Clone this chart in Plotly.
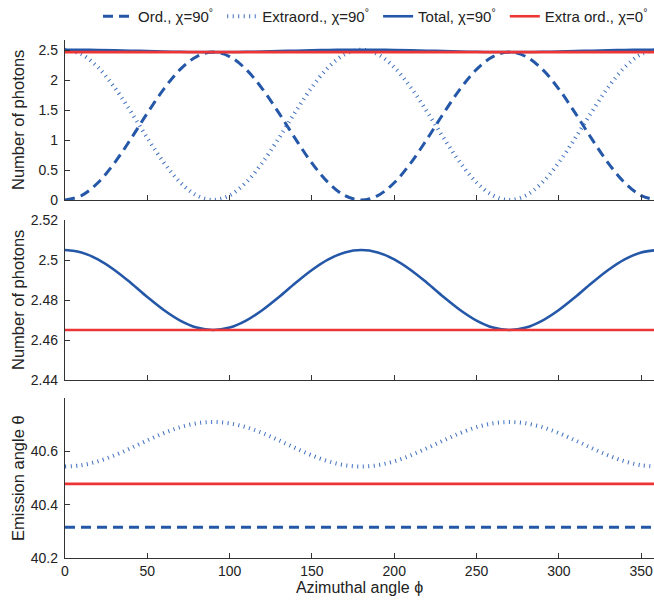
import plotly.graph_objects as go

# Azimuthal angle samples (degrees)
phi = [0, 10, 20, 30, 40, 50, 60, 70, 80, 90, 100, 110, 120, 130, 140, 150, 160, 170, 180,
       190, 200, 210, 220, 230, 240, 250, 260, 270, 280, 290, 300, 310, 320, 330, 340, 350, 360]

# Panel 1: number of photons
ord_q = [0.000, 0.074, 0.288, 0.616, 1.018, 1.447, 1.849, 2.177, 2.391, 2.465, 2.391, 2.177, 1.849, 1.447, 1.018, 0.616, 0.288, 0.074, 0.000,
         0.074, 0.288, 0.616, 1.018, 1.447, 1.849, 2.177, 2.391, 2.465, 2.391, 2.177, 1.849, 1.447, 1.018, 0.616, 0.288, 0.074, 0.000]
extra_q = [2.505, 2.429, 2.212, 1.879, 1.470, 1.035, 0.626, 0.293, 0.076, 0.000, 0.076, 0.293, 0.626, 1.035, 1.470, 1.879, 2.212, 2.429, 2.505,
           2.429, 2.212, 1.879, 1.470, 1.035, 0.626, 0.293, 0.076, 0.000, 0.076, 0.293, 0.626, 1.035, 1.470, 1.879, 2.212, 2.429, 2.505]
total_q = [2.5050, 2.5038, 2.5003, 2.4950, 2.4885, 2.4815, 2.4750, 2.4697, 2.4662, 2.4650, 2.4662, 2.4697, 2.4750, 2.4815, 2.4885, 2.4950, 2.5003, 2.5038, 2.5050,
           2.5038, 2.5003, 2.4950, 2.4885, 2.4815, 2.4750, 2.4697, 2.4662, 2.4650, 2.4662, 2.4697, 2.4750, 2.4815, 2.4885, 2.4950, 2.5003, 2.5038, 2.5050]
phi_flat = [0, 360]
extra0_q = [2.465, 2.465]

# Panel 3: emission angle
ord_theta = [40.315, 40.315]
extra0_theta = [40.478, 40.478]
extra_theta = [40.5430, 40.5480, 40.5625, 40.5848, 40.6120, 40.6410, 40.6683, 40.6905, 40.7050, 40.7100, 40.7050, 40.6905, 40.6683, 40.6410, 40.6120, 40.5848, 40.5625, 40.5480, 40.5430,
               40.5480, 40.5625, 40.5848, 40.6120, 40.6410, 40.6683, 40.6905, 40.7050, 40.7100, 40.7050, 40.6905, 40.6683, 40.6410, 40.6120, 40.5848, 40.5625, 40.5480, 40.5430]

NB = "\u00a0"
names = ["Ord., χ=90<sup>°</sup>" + NB, "Extraord., χ=90<sup>°</sup>" + NB,
         "Total, χ=90<sup>°</sup>" + NB, "Extra ord., χ=0<sup>°</sup>"]

BLUE = "#2457A7"
DOT_BLUE = "#3F6FC0"
RED = "#EE3535"
FONT = "Liberation Sans, Arial, sans-serif"
AXC = "#333333"

dash_ord = dict(color=BLUE, width=3, dash="10px,6px")
dot_ext = dict(color=DOT_BLUE, width=4, dash="1px,4.5px")
solid_tot = dict(color=BLUE, width=2.6)
solid_red = dict(color=RED, width=2.6)

fig = go.Figure()
# panel 1
fig.add_trace(go.Scatter(x=phi, y=ord_q, mode="lines", line=dash_ord, line_shape="spline", name=names[0], xaxis="x", yaxis="y"))
fig.add_trace(go.Scatter(x=phi, y=extra_q, mode="lines", line=dot_ext, line_shape="spline", name=names[1], xaxis="x", yaxis="y"))
fig.add_trace(go.Scatter(x=phi, y=total_q, mode="lines", line=solid_tot, line_shape="spline", name=names[2], xaxis="x", yaxis="y"))
fig.add_trace(go.Scatter(x=phi_flat, y=extra0_q, mode="lines", line=solid_red, name=names[3], xaxis="x", yaxis="y"))
# panel 2
fig.add_trace(go.Scatter(x=phi, y=total_q, mode="lines", line=solid_tot, line_shape="spline", showlegend=False, xaxis="x2", yaxis="y2"))
fig.add_trace(go.Scatter(x=phi_flat, y=extra0_q, mode="lines", line=solid_red, showlegend=False, xaxis="x2", yaxis="y2"))
# panel 3
fig.add_trace(go.Scatter(x=phi_flat, y=ord_theta, mode="lines", line=dash_ord, showlegend=False, xaxis="x3", yaxis="y3"))
fig.add_trace(go.Scatter(x=phi, y=extra_theta, mode="lines", line=dot_ext, line_shape="spline", showlegend=False, xaxis="x3", yaxis="y3"))
fig.add_trace(go.Scatter(x=phi_flat, y=extra0_theta, mode="lines", line=solid_red, showlegend=False, xaxis="x3", yaxis="y3"))

H = 518.0
def dom(top_px, bot_px):
    return [(558 - bot_px) / H, (558 - top_px) / H]

xcommon = dict(range=[0, 357.8], tickvals=[0, 50, 100, 150, 200, 250, 300, 350],
               ticks="inside", ticklen=5, tickcolor=AXC, tickwidth=1.2,
               showline=True, linecolor=AXC, linewidth=1.4, showgrid=False, zeroline=False,
               tickfont=dict(size=14, color="#222"))
ycommon = dict(ticks="inside", ticklen=5, tickcolor=AXC, tickwidth=1.2,
               showline=True, linecolor=AXC, linewidth=1.4, showgrid=False, zeroline=False,
               tickfont=dict(size=14, color="#222"), ticklabelstandoff=3)

fig.update_layout(
    width=654, height=604,
    margin=dict(l=65, r=0, t=40, b=46),
    plot_bgcolor="white", paper_bgcolor="white",
    font=dict(family=FONT, color="#222"),
    xaxis=dict(xcommon, anchor="y", showticklabels=False),
    xaxis2=dict(xcommon, anchor="y2", showticklabels=False),
    xaxis3=dict(xcommon, anchor="y3",
                title=dict(text="Azimuthal angle ϕ", font=dict(size=16), standoff=2)),
    yaxis=dict(ycommon, domain=dom(40, 200), range=[0, 2.6667],
               tickvals=[0, 0.5, 1, 1.5, 2, 2.5], ticktext=["0", "0.5", "1", "1.5", "2", "2.5"]),
    yaxis2=dict(ycommon, domain=dom(220, 380), range=[2.44, 2.52],
                tickvals=[2.44, 2.46, 2.48, 2.5, 2.52], ticktext=["2.44", "2.46", "2.48", "2.5", "2.52"]),
    yaxis3=dict(ycommon, domain=dom(398, 558), range=[40.2, 40.8],
                tickvals=[40.2, 40.4, 40.6], ticktext=["40.2", "40.4", "40.6"]),
    legend=dict(orientation="h", x=(98 - 65) / 589, xanchor="left",
                y=1 + (40 - 16) / H, yanchor="middle",
                font=dict(size=15), bgcolor="rgba(0,0,0,0)", itemwidth=30,
                tracegroupgap=0),
    showlegend=True,
)

ytitles = [("Number of photons", 120), ("Number of photons", 300), ("Emission angle θ", 478)]
for txt, ypx in ytitles:
    fig.add_annotation(text=txt, xref="paper", yref="paper",
                       x=(18 - 65) / 589, y=(558 - ypx) / H, xanchor="center", yanchor="middle",
                       textangle=-90, showarrow=False, font=dict(size=16.5, family=FONT, color="#222"))

fig.write_html("out.html")
